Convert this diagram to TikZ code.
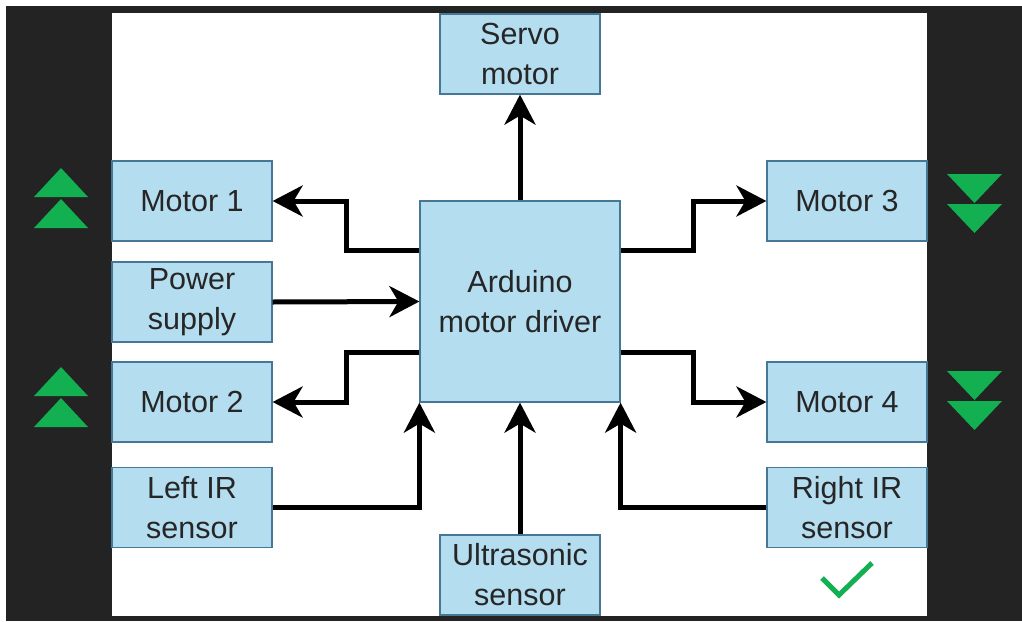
\documentclass[tikz,border=0pt]{standalone}
\usepackage{fontspec}
\setmainfont{Liberation Sans}
\usetikzlibrary{arrows.meta}

\definecolor{boxfill}{RGB}{180,221,240}
\definecolor{boxline}{RGB}{70,120,150}
\definecolor{panel}{RGB}{35,35,36}
\definecolor{okgreen}{RGB}{18,176,80}

\begin{document}
\begin{tikzpicture}[x=1pt, y=-1pt,
	block/.style={draw=boxline, fill=boxfill, line width=1.2pt, inner sep=0pt,
		minimum width=160pt, minimum height=80pt, align=center, text=black!85,
		font=\fontsize{30.5}{40}\selectfont},
	link/.style={line width=5pt, -{Stealth[length=30pt, width=31pt, inset=9pt]}}]
	\useasboundingbox (0,0) rectangle (1022,621);
	\fill[white] (0,0) rectangle (1022,621);
	\fill[panel] (6,6) rectangle (1022,621);
	\fill[white] (112,13) rectangle (927,616);
	% blocks
	\node[block] (servo) at (520,54) {Servo\\motor};
	\node[block] (m1) at (192,201) {Motor 1};
	\node[block] (power) at (192,302) {Power\\supply};
	\node[block] (m2) at (192,402) {Motor 2};
	\node[block] (lir) at (192,507.5) {Left IR\\sensor};
	\node[block, minimum width=200pt, minimum height=201pt] (ard) at (520,301.5) {Arduino\\motor driver};
	\node[block] (m3) at (847,201) {Motor 3};
	\node[block] (m4) at (847,402) {Motor 4};
	\node[block] (rir) at (847,507.5) {Right IR\\sensor};
	\node[block] (ultra) at (520,575) {Ultrasonic\\sensor};
	% connections
	\draw[link] (ard.north) -- (servo.south);
	\draw[link] ([yshift=-50pt]ard.north west) -- ++(-73,0) |- (m1.east);
	\draw[link] (power.east) -- (ard.west);
	\draw[link] ([yshift=50pt]ard.south west) -- ++(-73,0) |- (m2.east);
	\draw[link] (lir.east) -| (ard.south west);
	\draw[link] ([yshift=-50pt]ard.north east) -- ++(73,0) |- (m3.west);
	\draw[link] ([yshift=50pt]ard.south east) -- ++(73,0) |- (m4.west);
	\draw[link] (rir.west) -| (ard.south east);
	\draw[link] (ultra.north) -- (ard.south);
	% green marks
	\foreach \y in {168,199,367,398}
		\fill[okgreen] (61,\y) -- (88,\y+29) -- (34,\y+29) -- cycle;
	\foreach \y in {174,204,371,401}
		\fill[okgreen] (947,\y) -- (1002,\y) -- (974.5,\y+29) -- cycle;
	\draw[okgreen, line width=5pt] (822,578) -- (839,595) -- (872,563);
\end{tikzpicture}
\end{document}
